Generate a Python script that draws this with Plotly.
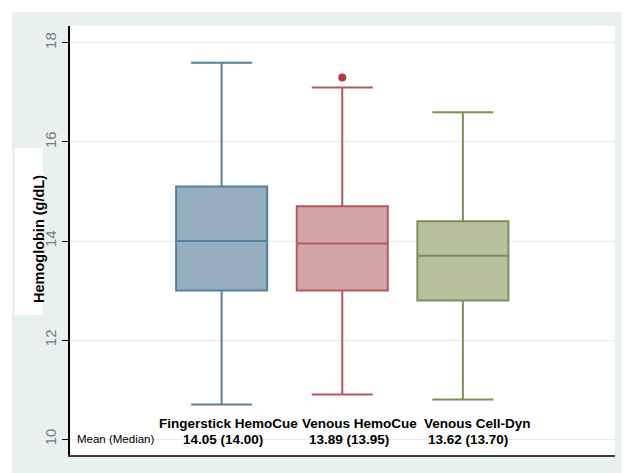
import plotly.graph_objects as go

# box statistics (g/dL)
groups = ["Fingerstick HemoCue", "Venous HemoCue", "Venous Cell-Dyn"]
means = [14.05, 13.89, 13.62]
medians = [14.00, 13.95, 13.70]
q1 = [13.0, 13.0, 12.8]
q3 = [15.1, 14.7, 14.4]
lower = [10.7, 10.9, 10.8]
upper = [17.6, 17.1, 16.6]
outlier_group = 2
outlier_value = 17.3

fills = ["#97adc0", "#d3a4a6", "#b9c09d"]
edges = ["#55809f", "#b35a60", "#7b9157"]

fig = go.Figure()

for i, name in enumerate(groups):
    fig.add_trace(go.Box(
        x=[i + 1],
        q1=[q1[i]], median=[medians[i]], q3=[q3[i]],
        lowerfence=[lower[i]], upperfence=[upper[i]],
        width=0.755, whiskerwidth=0.67,
        fillcolor=fills[i],
        line=dict(color=edges[i], width=2),
        boxpoints=False, name=name, showlegend=False,
        hoverinfo="skip",
    ))

fig.add_trace(go.Scatter(
    x=[outlier_group], y=[outlier_value], mode="markers",
    marker=dict(color="#b23a44", size=8), showlegend=False,
))

# category labels and mean (median) row under the boxes
label_x = [1.054, 2.141, 3.12]
stat_x = [1.012, 2.058, 3.046]
for i, name in enumerate(groups):
    fig.add_annotation(x=label_x[i], y=10.31, text="<b>%s</b>" % name,
                       showarrow=False, font=dict(size=13.5, color="black"))
    fig.add_annotation(x=stat_x[i], y=10.0,
                       text="<b>%.2f (%.2f)</b>" % (means[i], medians[i]),
                       showarrow=False, font=dict(size=13.5, color="black"))
fig.add_annotation(x=-0.212, y=10.0, xanchor="left", text="Mean (Median)",
                   showarrow=False, font=dict(size=11.5, color="black"))

# y-axis title in its white box
fig.add_annotation(xref="paper", yref="paper", x=-0.0752, y=0.5035,
                   text="<b>Hemoglobin (g/dL)</b>", textangle=-90,
                   showarrow=False, font=dict(size=14.5, color="black"))

fig.update_layout(
    width=629, height=473,
    margin=dict(l=62, r=22, t=18, b=26),
    paper_bgcolor="white",
    plot_bgcolor="rgba(0,0,0,0)",
    font=dict(family="Arial, Liberation Sans, sans-serif"),
    shapes=[
        dict(type="rect", xref="paper", yref="paper", x0=-0.1064, x1=1.033,
             y0=-0.0466, y1=1.0326, fillcolor="#e9f1f0", line_width=0,
             layer="below"),
        dict(type="rect", xref="paper", yref="paper", x0=0, x1=1,
             y0=0, y1=1, fillcolor="white", line_width=0, layer="below"),
        dict(type="rect", xref="paper", yref="paper", x0=-0.1009, x1=-0.0495,
             y0=0.3263, y1=0.7156, fillcolor="white", line_width=0,
             layer="below"),
        dict(type="rect", xref="paper", yref="y", x0=0, x1=0.9,
             y0=9.9, y1=10.1, fillcolor="white", line_width=0,
             layer="between"),
    ],
    xaxis=dict(
        range=[-0.257, 4.261], showticklabels=False, ticks="",
        showgrid=False, zeroline=False, automargin=False,
        showline=True, linecolor="#3c3c3c", linewidth=2,
    ),
    yaxis=dict(
        range=[9.68, 18.34], tickvals=[10, 12, 14, 16, 18],
        tickangle=-90, ticks="outside", ticklen=6, tickcolor="black",
        tickfont=dict(size=15, color="#7a7a7a"), automargin=False,
        showgrid=True, gridcolor="#e3edf0", gridwidth=1, zeroline=False,
        showline=True, linecolor="black", linewidth=2,
    ),
)

fig.write_html("out.html")
